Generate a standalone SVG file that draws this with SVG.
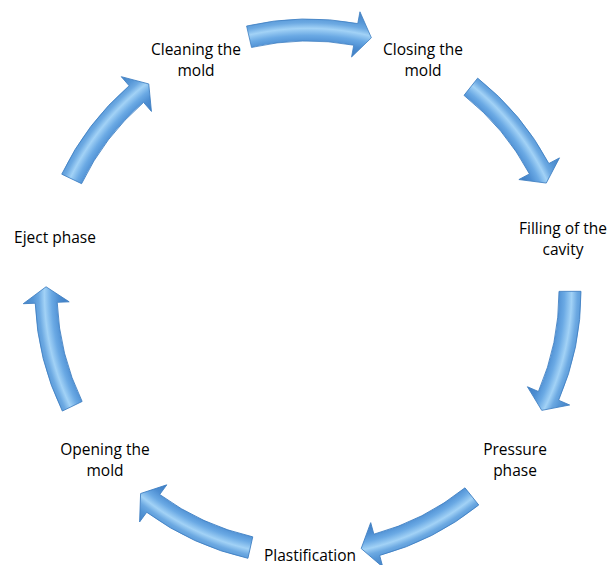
<svg xmlns="http://www.w3.org/2000/svg" xmlns:xlink="http://www.w3.org/1999/xlink" width="614" height="565" viewBox="0 0 614 565">
<style>
.lbl{font-family:"Open Sans","Liberation Sans",sans-serif;font-size:15.5px;fill:#000;text-anchor:middle}
.arr{fill:url(#shade);stroke:#3f7fc2;stroke-width:0.8;stroke-linejoin:round}
</style>
<defs>
<radialGradient id="shade" gradientUnits="userSpaceOnUse" cx="308" cy="292" r="285">
<stop offset="0.83" stop-color="#3a78bf"/>
<stop offset="0.875" stop-color="#4d8ed2"/>
<stop offset="0.90" stop-color="#6aa9e4"/>
<stop offset="0.925" stop-color="#a2d2f6"/>
<stop offset="0.945" stop-color="#6ca9e2"/>
<stop offset="0.965" stop-color="#5596d6"/>
<stop offset="1" stop-color="#4683c6"/>
</radialGradient>
<path id="arrow" class="arr" d="M246.59,26.00 A273,273 0 0 1 357.75,23.57 L359.94,11.77 L371.38,37.78 L351.56,57.00 L353.74,45.20 A251,251 0 0 0 251.54,47.43 Z"/>
</defs>
<rect width="614" height="565" fill="#fff"/>
<g id="connectors">
<use xlink:href="#arrow"/>
<use xlink:href="#arrow" transform="rotate(51.4286 308 292)"/>
<use xlink:href="#arrow" transform="rotate(102.857 308 292)"/>
<use xlink:href="#arrow" transform="rotate(154.286 308 292)"/>
<use xlink:href="#arrow" transform="rotate(205.714 308 292)"/>
<use xlink:href="#arrow" transform="rotate(257.143 308 292)"/>
<use xlink:href="#arrow" transform="rotate(308.571 308 292)"/>
</g>
<g id="cleaning"><text class="lbl" x="196" y="55">Cleaning the</text><text class="lbl" x="196" y="76">mold</text></g>
<g id="closing"><text class="lbl" x="423" y="55">Closing the</text><text class="lbl" x="423" y="76">mold</text></g>
<g id="filling"><text class="lbl" x="563" y="234">Filling of the</text><text class="lbl" x="563" y="255">cavity</text></g>
<g id="pressure"><text class="lbl" x="515" y="455">Pressure</text><text class="lbl" x="515" y="476">phase</text></g>
<g id="plastification"><text class="lbl" x="310" y="561">Plastification</text></g>
<g id="opening"><text class="lbl" x="105" y="455">Opening the</text><text class="lbl" x="105" y="476">mold</text></g>
<g id="eject"><text class="lbl" x="55" y="243">Eject phase</text></g>
</svg>
